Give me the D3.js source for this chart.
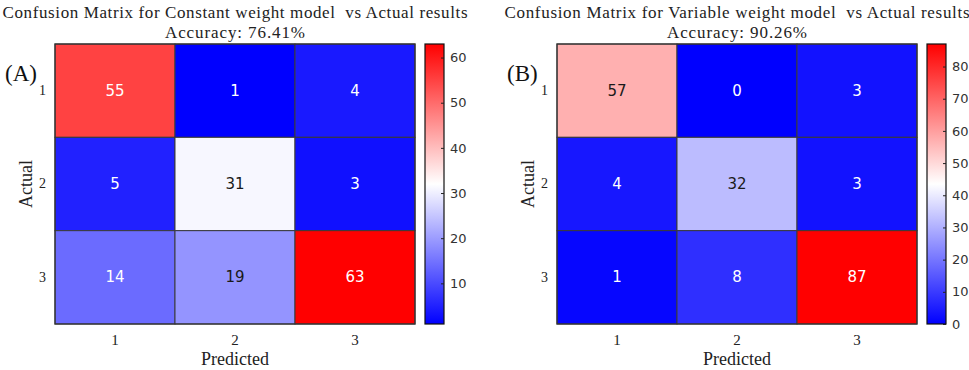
<!DOCTYPE html>
<html>
<head>
<meta charset="utf-8">
<script src="https://cdn.jsdelivr.net/npm/d3@7"></script>
<style>
  html, body { margin: 0; padding: 0; background: #fff; }
  svg { display: block; }
</style>
</head>
<body>
<div id="chart"></div>
<script>
const classes = ['1', '2', '3'];

const matrixA = [
  [55, 1, 4],
  [5, 31, 3],
  [14, 19, 63],
];
const matrixB = [
  [57, 0, 3],
  [4, 32, 3],
  [1, 8, 87],
];

const titlesA = ['Confusion Matrix for Constant weight model  vs Actual results', 'Accuracy: 76.41%'];
const titlesB = ['Confusion Matrix for Variable weight model  vs Actual results', 'Accuracy: 90.26%'];

const colorDomainA = [1, 63];
const colorDomainB = [0, 87];
const colorTicksA = [10, 20, 30, 40, 50, 60];
const colorTicksB = [0, 10, 20, 30, 40, 50, 60, 70, 80];

const width = 969, height = 370;
const serif = '"Liberation Serif", "Times New Roman", serif';
const sans = '"DejaVu Sans", Tahoma, sans-serif';

const svg = d3.select('#chart')
  .append('svg')
    .attr('width', width)
    .attr('height', height);

const defs = svg.append('defs');

function panel({id, left, matrix, titles, domain, ticks, letter}) {
  const top = 44, size = 360, rows = 280;
  const mid = (domain[0] + domain[1]) / 2;
  const color = d3.scaleLinear()
    .domain([domain[0], mid, domain[1]])
    .range(['#0000ff', '#ffffff', '#ff0000']);

  const x = d3.scaleBand().domain(classes).range([left, left + size]);
  const y = d3.scaleBand().domain(classes).range([top, top + rows]);

  const g = svg.append('g');

  const cells = matrix.flatMap((row, i) =>
    row.map((v, j) => ({actual: classes[i], predicted: classes[j], value: v})));

  g.selectAll('rect.cell')
    .data(cells)
    .enter()
    .append('rect')
      .attr('class', 'cell')
      .attr('x', d => x(d.predicted))
      .attr('y', d => y(d.actual))
      .attr('width', x.bandwidth())
      .attr('height', y.bandwidth())
      .attr('fill', d => color(d.value))
      .attr('stroke', '#3a3a3a')
      .attr('stroke-width', 1);

  g.selectAll('text.val')
    .data(cells)
    .enter()
    .append('text')
      .attr('class', 'val')
      .attr('x', d => x(d.predicted) + x.bandwidth() / 2)
      .attr('y', d => y(d.actual) + y.bandwidth() / 2)
      .attr('text-anchor', 'middle')
      .attr('dominant-baseline', 'central')
      .style('font-family', sans)
      .style('font-size', '15px')
      .attr('fill', d => Math.abs(d.value - mid) / (domain[1] - mid) < 0.5 ? '#1a1a1a' : '#ffffff')
      .text(d => d.value);

  // outer frame
  g.append('rect')
    .attr('x', left).attr('y', top)
    .attr('width', size).attr('height', rows)
    .attr('fill', 'none')
    .attr('stroke', '#333')
    .attr('stroke-width', 1.2);

  // axes labels
  g.append('g')
    .attr('transform', `translate(0, ${top + rows})`)
    .call(d3.axisBottom(x).tickSize(0).tickPadding(10))
    .call(a => a.select('.domain').remove())
    .selectAll('text')
      .style('font-family', serif)
      .style('font-size', '15px')
      .attr('fill', '#222');

  g.append('g')
    .attr('transform', `translate(${left}, 0)`)
    .call(d3.axisLeft(y).tickSize(0).tickPadding(9))
    .call(a => a.select('.domain').remove())
    .selectAll('text')
      .style('font-family', serif)
      .style('font-size', '14px')
      .attr('fill', '#222');

  g.append('text')
    .attr('x', left + size / 2)
    .attr('y', 365)
    .attr('text-anchor', 'middle')
    .style('font-family', serif)
    .style('font-size', '18px')
    .attr('fill', '#222')
    .text('Predicted');

  g.append('text')
    .attr('transform', `translate(${left - 23}, ${top + rows / 2}) rotate(-90)`)
    .attr('text-anchor', 'middle')
    .style('font-family', serif)
    .style('font-size', '18px')
    .attr('fill', '#222')
    .text('Actual');

  g.append('text')
    .attr('x', left - 50)
    .attr('y', 81)
    .style('font-family', serif)
    .style('font-size', '23px')
    .attr('fill', '#111')
    .text(letter);

  g.selectAll('text.title')
    .data(titles)
    .enter()
    .append('text')
      .attr('class', 'title')
      .attr('x', left + size / 2)
      .attr('y', (d, i) => 18 + i * 20)
      .attr('text-anchor', 'middle')
      .style('font-family', serif)
      .style('font-size', '17px')
      .style('white-space', 'pre')
      .attr('fill', '#222')
      .text(d => d)
      .each(function(d, i) {
        const target = i === 0 ? 465 : 140;
        d3.select(this).attr('textLength', target).attr('lengthAdjust', 'spacing');
      });

  // colorbar
  const cbX = left + size + 10, cbW = 19;
  const cb = d3.scaleLinear().domain(domain).range([top + rows, top]);

  const grad = defs.append('linearGradient')
    .attr('id', `grad-${id}`)
    .attr('x1', 0).attr('y1', 1).attr('x2', 0).attr('y2', 0);
  grad.selectAll('stop')
    .data(d3.range(0, 1.0001, 0.1))
    .enter()
    .append('stop')
      .attr('offset', t => t)
      .attr('stop-color', t => color(domain[0] + t * (domain[1] - domain[0])));

  g.append('rect')
    .attr('x', cbX).attr('y', top)
    .attr('width', cbW).attr('height', rows)
    .attr('fill', `url(#grad-${id})`)
    .attr('stroke', '#111')
    .attr('stroke-width', 1.2);

  g.append('g')
    .attr('transform', `translate(${cbX + cbW}, 0)`)
    .call(d3.axisRight(cb).tickValues(ticks).tickSize(-3).tickPadding(6))
    .call(a => a.select('.domain').remove())
    .call(a => a.selectAll('line').attr('stroke', '#222'))
    .selectAll('text')
      .style('font-family', sans)
      .style('font-size', '13px')
      .attr('fill', '#333');
}

panel({id: 'a', left: 55, matrix: matrixA, titles: titlesA, domain: colorDomainA, ticks: colorTicksA, letter: '(A)'});
panel({id: 'b', left: 557, matrix: matrixB, titles: titlesB, domain: colorDomainB, ticks: colorTicksB, letter: '(B)'});
</script>
</body>
</html>
